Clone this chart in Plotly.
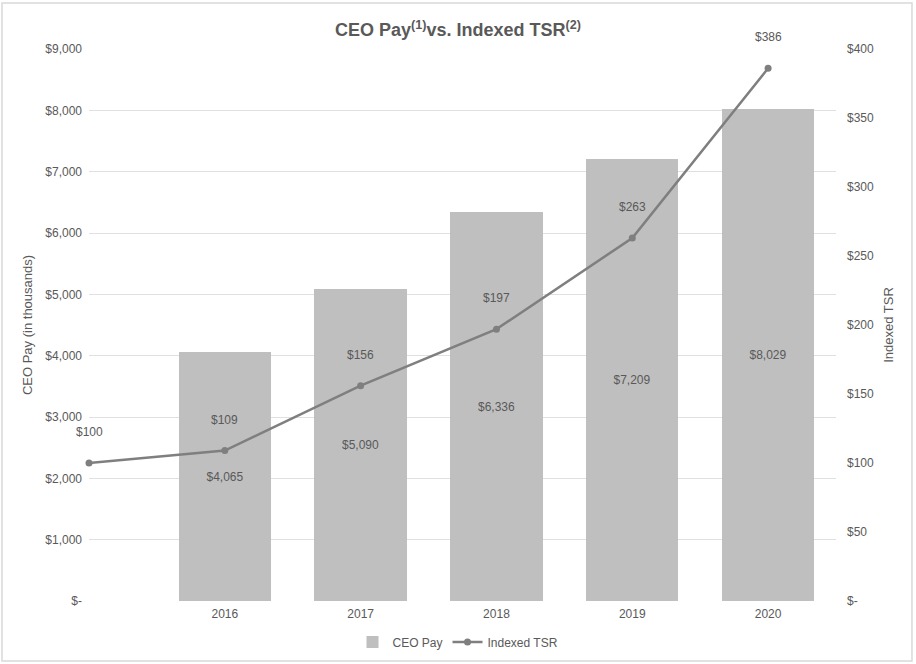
import plotly.graph_objects as go

# CEO pay (in thousands) by fiscal year
pay_years = [2016, 2017, 2018, 2019, 2020]
ceo_pay = [4065, 5090, 6336, 7209, 8029]

# indexed TSR, base year 2015 = $100
tsr_years = [2015, 2016, 2017, 2018, 2019, 2020]
indexed_tsr = [100, 109, 156, 197, 263, 386]

left_ticks = [0, 1000, 2000, 3000, 4000, 5000, 6000, 7000, 8000, 9000]
right_ticks = [0, 50, 100, 150, 200, 250, 300, 350, 400]

def money(v):
    return "$-" if v == 0 else f"${v:,}"

GREY_TXT = "#595959"
FONT = "Liberation Sans, Arial, sans-serif"

fig = go.Figure()

fig.add_trace(go.Bar(
    x=pay_years,
    y=ceo_pay,
    width=0.68,
    name="CEO Pay",
    marker=dict(color="#bfbfbf", line=dict(width=0)),
    text=[money(v) for v in ceo_pay],
    textposition="inside",
    insidetextanchor="middle",
    textfont=dict(color=GREY_TXT, size=12),
    hoverinfo="skip",
))

fig.add_trace(go.Scatter(
    x=tsr_years,
    y=indexed_tsr,
    yaxis="y2",
    name="Indexed TSR",
    mode="lines+markers",
    line=dict(color="#7f7f7f", width=2.5),
    marker=dict(color="#7f7f7f", size=7),
    cliponaxis=False,
))

# data labels above the TSR points
for x, v in zip(tsr_years, indexed_tsr):
    fig.add_annotation(
        x=x, y=v, xref="x", yref="y2",
        text=money(v), showarrow=False, yshift=31,
        font=dict(color=GREY_TXT, size=12),
    )

fig.update_layout(
    width=916,
    height=664,
    margin=dict(l=89, r=80, t=49, b=63),
    paper_bgcolor="white",
    plot_bgcolor="white",
    font=dict(family=FONT, color=GREY_TXT, size=12),
    title=dict(
        text="<b>CEO Pay<sup>(1)</sup>vs. Indexed TSR<sup>(2)</sup></b>",
        x=0.5, xanchor="center", y=0.955, yanchor="middle",
        font=dict(size=18, color=GREY_TXT, family="Liberation Sans Narrow, Arial Narrow, " + FONT),
        automargin=False,
    ),
    xaxis=dict(
        range=[2015, 2020.5],
        tickvals=pay_years,
        ticktext=[str(y) for y in pay_years],
        showgrid=False,
        zeroline=False,
        showline=False,
        ticks="",
        automargin=False,
        ticklabelstandoff=4,
        tickfont=dict(size=12, color=GREY_TXT),
    ),
    yaxis=dict(
        range=[0, 9000],
        tickvals=left_ticks,
        ticktext=[money(v) for v in left_ticks],
        showgrid=True,
        gridcolor="#e0e0e0",
        gridwidth=1,
        zeroline=False,
        ticks="",
        automargin=False,
        ticklabelstandoff=6,
        tickfont=dict(size=12, color=GREY_TXT),
        title=dict(text="CEO Pay (in thousands)", font=dict(size=13, color=GREY_TXT), standoff=9),
    ),
    yaxis2=dict(
        range=[0, 400],
        overlaying="y",
        side="right",
        tickvals=right_ticks,
        ticktext=[money(v) for v in right_ticks],
        showgrid=False,
        zeroline=False,
        ticks="",
        automargin=False,
        ticklabelstandoff=10,
        tickfont=dict(size=12, color=GREY_TXT),
        title=dict(text="Indexed TSR", font=dict(size=13, color=GREY_TXT), standoff=10),
    ),
    legend=dict(
        orientation="h",
        x=0.5, xanchor="center",
        xref="container", yref="container",
        y=0.033, yanchor="middle",
        font=dict(size=12, color=GREY_TXT),
        itemwidth=30,
    ),
    bargap=0,
    shapes=[dict(
        type="rect", xref="paper", yref="paper",
        x0=-0.1165, x1=1.1017, y0=-0.1087, y1=1.0833,
        line=dict(color="#d9d9d9", width=1.5),
        fillcolor="rgba(0,0,0,0)", layer="below",
    )],
)

# drop the browser's default 8px body margin so the figure sits at the window corner
fig.write_html(
    "out.html",
    config={"displayModeBar": False},
    post_script="document.body.style.margin='0';",
)
